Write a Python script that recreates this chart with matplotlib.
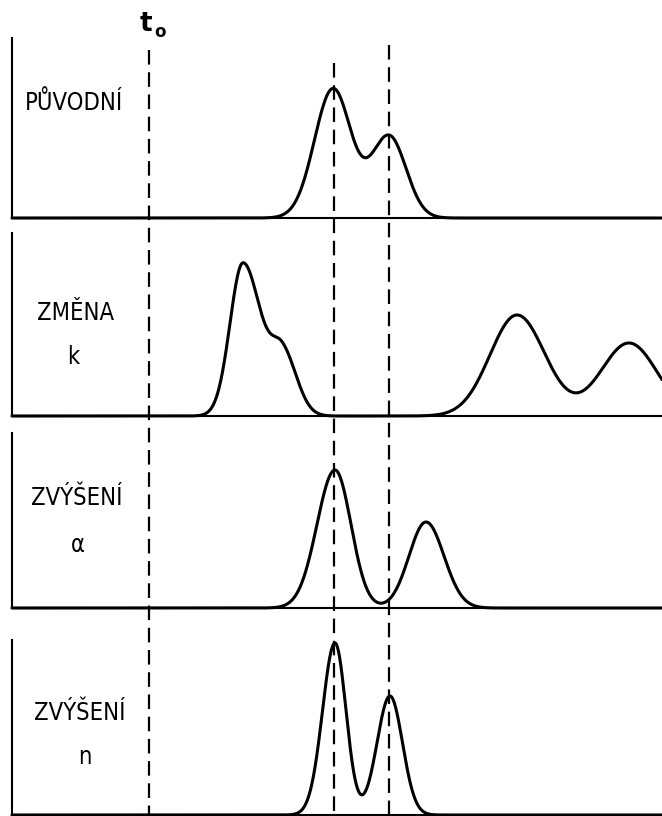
import numpy as np
import matplotlib
matplotlib.use("Agg")
from matplotlib import pyplot as plt
from matplotlib import font_manager

# retention axis in the figure's own horizontal units (0..662)
t_zero = 149
ref_times = [334, 389]

# each panel: peak centres, heights, left / right widths (bi-gaussian)
p1_centers = [333, 389]
p1_heights = [129, 82]
p1_sig_l = [18.5, 18]
p1_sig_r = [18, 17]

p2_centers = [243, 283, 517, 629]
p2_heights = [153, 60, 101, 73]
p2_sig_l = [13, 12, 27, 28]
p2_sig_r = [18, 14, 28, 28]

p3_centers = [335, 426]
p3_heights = [138, 86]
p3_sig_l = [18, 17]
p3_sig_r = [16, 18]

p4_centers = [335, 390]
p4_heights = [172, 119]
p4_sig_l = [12.5, 13]
p4_sig_r = [11, 12.5]

labels_main = ["PŮVODNÍ", "ZMĚNA", "ZVÝŠENÍ", "ZVÝŠENÍ"]
labels_sub = ["", "k", "α", "n"]


def chromatogram(x, centers, heights, sig_l, sig_r):
    y = np.zeros_like(x)
    for c, h, sl, sr in zip(centers, heights, sig_l, sig_r):
        s = np.where(x < c, sl, sr)
        y += h * np.exp(-(x - c) ** 2 / (2 * s ** 2))
    return y


def label_font():
    # a narrow sans like the scanned labels, if one is around
    fonts = font_manager.fontManager.ttflist
    for f in fonts:
        if f.name == "DejaVu Sans" and f.stretch == "condensed" and f.weight in (400, "normal"):
            return dict(family=["DejaVu Sans"], fontstretch="condensed", fontsize=17)
    names = {f.name for f in fonts}
    for n in ["DejaVu Sans Condensed", "Liberation Sans Narrow"]:
        if n in names:
            return dict(family=[n, "DejaVu Sans"], fontsize=17)
    return dict(family=["Roboto", "DejaVu Sans"], fontsize=16.5)


def main():
    plt.rcParams["lines.scale_dashes"] = False
    W, H = 662, 816
    fig = plt.figure(figsize=(W / 100, H / 100), dpi=100)

    # panel layout in pixels: (top of axis, baseline, right end)
    layout = [(38, 218, 653), (233, 416, 662), (433, 608, 659), (640, 815, 662)]
    panels = [
        (p1_centers, p1_heights, p1_sig_l, p1_sig_r),
        (p2_centers, p2_heights, p2_sig_l, p2_sig_r),
        (p3_centers, p3_heights, p3_sig_l, p3_sig_r),
        (p4_centers, p4_heights, p4_sig_l, p4_sig_r),
    ]
    left = 12
    x = np.linspace(left, W, 2000)
    for (top, base, right), pk in zip(layout, panels):
        ax = fig.add_axes([left / W, (H - base) / H, (right - left) / W, (base - top) / H])
        ax.set_xlim(left, right)
        ax.set_ylim(0, base - top)
        ax.patch.set_alpha(0)
        for s in ["top", "right"]:
            ax.spines[s].set_visible(False)
        for s in ["left", "bottom"]:
            ax.spines[s].set_linewidth(1.5)
        ax.set_xticks([])
        ax.set_yticks([])
        y = chromatogram(x, *pk)
        ax.plot(x, y, color="black", lw=2.2, clip_on=False,
                solid_capstyle="round", solid_joinstyle="round")

    # overlay in pixel units for the dashed markers and labels
    ov = fig.add_axes([0, 0, 1, 1])
    ov.set_xlim(0, W)
    ov.set_ylim(H, 0)
    ov.axis("off")
    ov.patch.set_alpha(0)
    tops = [50, 63, 45]
    for xv, yt in zip([t_zero] + ref_times, tops):
        ov.plot([xv, xv], [yt, H], color="black", lw=1.6, dashes=(10.5, 5.5))

    ov.text(146, 24, "t", fontsize=19, fontweight="bold", ha="center", va="center")
    ov.text(160, 32, "o", fontsize=12, fontweight="bold", ha="center", va="center")

    fk = label_font()
    main_pos = [(74, 103), (75, 313), (77, 498), (80, 713)]
    sub_pos = [None, (73, 357), (78, 545), (85, 757)]
    for lab, sub, mp, sp in zip(labels_main, labels_sub, main_pos, sub_pos):
        ov.text(mp[0], mp[1], lab, ha="center", va="center", **fk)
        if sub:
            ov.text(sp[0], sp[1], sub, ha="center", va="center", **fk)

    fig.savefig("out.png", dpi=100)


if __name__ == "__main__":
    main()
